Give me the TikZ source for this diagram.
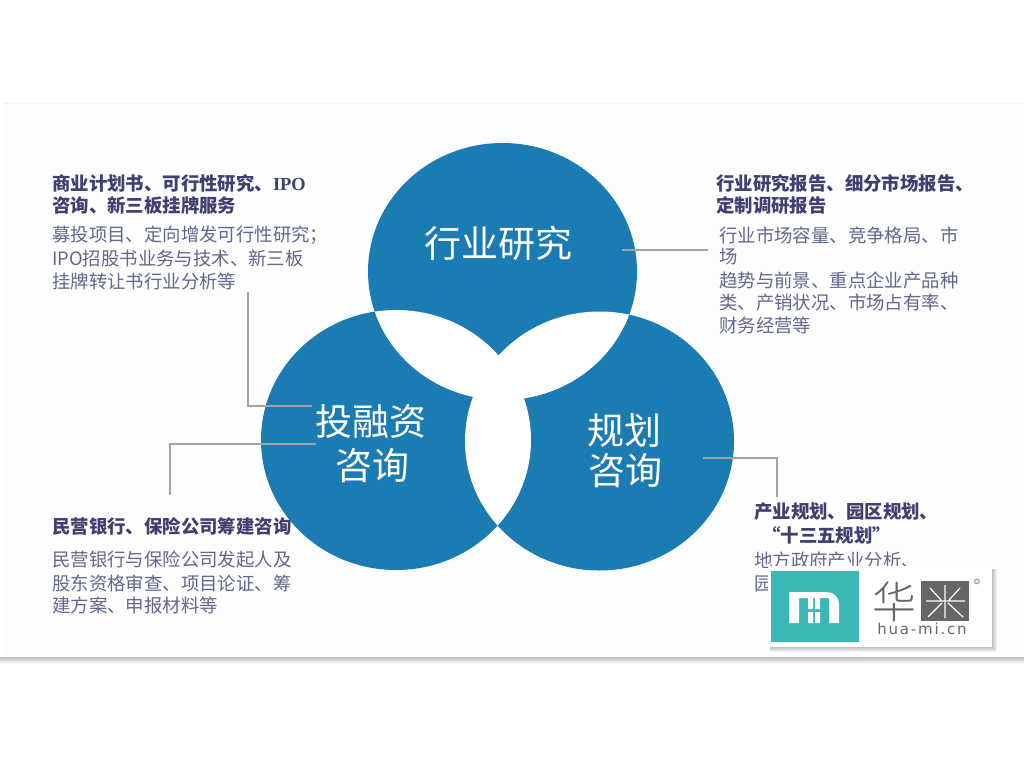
\documentclass[tikz,border=0pt]{standalone}
\usepackage{fontspec}
\setmainfont{Noto Sans CJK SC}
\newfontfamily\latinb{Liberation Serif}
\newfontfamily\urlfont[LetterSpace=12]{DejaVu Sans}
\newfontfamily\huafont{Noto Sans CJK SC Light}
\newfontfamily\regfont{DejaVu Sans}
\definecolor{vblue}{HTML}{1B7BB3}
\definecolor{headc}{HTML}{3F3F72}
\definecolor{bodyc}{HTML}{62678F}
\definecolor{linec}{HTML}{A3A3A3}
\definecolor{tealc}{HTML}{3BB8B6}
\definecolor{panelc}{HTML}{FDFDFD}
\definecolor{shadowc}{HTML}{BDBDBD}
\definecolor{migray}{HTML}{666666}
\tikzset{
  head/.style={anchor=west,inner sep=0pt,text=headc,font=\fontsize{18.4}{20}\selectfont\bfseries},
  body/.style={anchor=west,inner sep=0pt,text=bodyc,font=\fontsize{18.4}{20}\selectfont},
  big/.style={anchor=center,inner sep=0pt,text=white,font=\fontsize{37}{40}\selectfont},
  conn/.style={draw=linec,line width=2.6pt},
  venn/.style={fill=vblue}
}
\begin{document}
\begin{tikzpicture}[x=1pt,y=-1pt]
\useasboundingbox (0,0) rectangle (1024,768);
\fill[white] (0,0) rectangle (1024,768);
% panel
\fill[panelc] (3,103) rectangle (1024,657);
\shade[top color=shadowc,bottom color=white] (0,657) rectangle (1024,664);
\draw[black!6,line width=.8pt] (3,103) -- (1024,103);
% venn
\def\ct{(502.5,271.5) ellipse [x radius=134.5,y radius=128.5]}
\def\cl{(396,440) ellipse [x radius=135,y radius=130]}
\def\cr{(599.5,441) ellipse [x radius=134.5,y radius=129.5]}
\fill[venn] \ct;
\fill[venn] \cl;
\fill[venn] \cr;
\begin{scope}\clip \ct; \fill[white] \cl; \fill[white] \cr; \end{scope}
\begin{scope}\clip \cl; \fill[white] \cr; \end{scope}
% labels
\node[big] (t1) at (498,243) {行业研究};
\node[big] (t2) at (371,421) {投融资};
\node[big] (t3) at (372,466) {咨询};
\node[big] (t4) at (624,430) {规划};
\node[big] (t5) at (625,471) {咨询};
% top left
\node[head] (a1) at (52,183) {商业计划书、可行性研究、{\latinb IPO}};
\node[head] (a2) at (52,205) {咨询、新三板挂牌服务};
\node[body] (a3) at (52,235) {募投项目、定向增发可行性研究；};
\node[body] (a4) at (52,258) {IPO招股书业务与技术、新三板};
\node[body] (a5) at (52,281) {挂牌转让书行业分析等};
% top right
\node[head] (b1) at (716,183) {行业研究报告、细分市场报告、};
\node[head] (b2) at (716,205) {定制调研报告};
\node[body] (b3) at (719,235) {行业市场容量、竞争格局、市};
\node[body] (b4) at (719,257) {场};
\node[body] (b5) at (719,280) {趋势与前景、重点企业产品种};
\node[body] (b6) at (719,302) {类、产销状况、市场占有率、};
\node[body] (b7) at (719,325) {财务经营等};
% bottom left
\node[head] (c1) at (52,526) {民营银行、保险公司筹建咨询};
\node[body] (c2) at (52,560) {民营银行与保险公司发起人及};
\node[body] (c3) at (52,583) {股东资格审查、项目论证、筹};
\node[body] (c4) at (52,605) {建方案、申报材料等};
% bottom right
\node[head] (d1) at (754,512) {产业规划、园区规划、};
\node[head] (d2) at (762,535) {“十三五规划”};
\node[body] (d3) at (754,560) {地方政府产业分析、};
\node[body] (d4) at (754,584) {园};
% connectors
\coordinate (p1) at (622,250); \coordinate (p2) at (708,250);
\draw[conn] (p1) -- (p2);
\coordinate (q1) at (248,292); \coordinate (q2) at (312,406);
\draw[conn] (q1) |- (q2);
\coordinate (r1) at (170,495); \coordinate (r2) at (316,444);
\draw[conn] (r1) |- (r2);
\coordinate (s1) at (703,458); \coordinate (s2) at (777,497);
\draw[conn] (s1) -| (s2);
% logo
\foreach \d in {1,2,...,6}{\fill[black,opacity=.05] (770,569) rectangle ({991+\d},{646+\d});}
\fill[white] (768,566) rectangle (992,647);
\fill[tealc] (771,571) rectangle (859,642);
\fill[white] (789,592) -- (827,592) arc[start angle=-90,end angle=0,radius=12] -- (839,623) -- (829,623) -- (829,598) -- (799,598) -- (799,623) -- (789,623) -- cycle;
\fill[white] (808,598) rectangle (813,609) (815,598) rectangle (820,609) (808,612) rectangle (813,623) (815,612) rectangle (820,623);
\fill[migray] (921,581) rectangle (969,621);
\draw[white,line width=1.2pt] (945,585) -- (945,618) (930,588) -- (941,600) (960,588) -- (949,600) (942,603) -- (928,617) (948,603) -- (963,617) (926,601) -- (965,601);
\node[anchor=center,inner sep=0pt,text=migray,font=\huafont\fontsize{44}{46}\selectfont] (hua) at (894,602) {华};
\node[anchor=center,inner sep=0pt,text=migray,font=\urlfont\fontsize{15}{18}\selectfont] (url) at (922,629) {hua-mi.cn};
\node[anchor=center,inner sep=0pt,text=migray!70,font=\regfont\fontsize{18}{20}\selectfont] (reg) at (977,586) {°};
\end{tikzpicture}
\end{document}
